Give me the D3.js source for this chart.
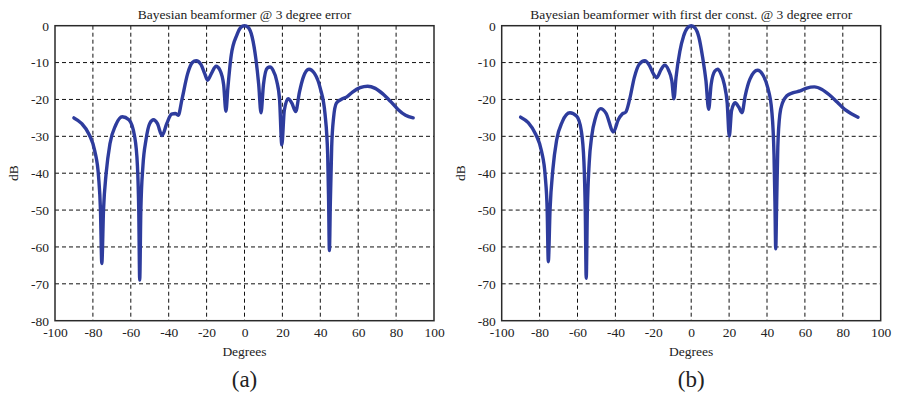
<!DOCTYPE html>
<html>
<head>
<meta charset="utf-8">
<script src="https://cdn.jsdelivr.net/npm/d3@7"></script>
<style>
  body { margin: 0; background: #fff; }
  svg text { font-family: "Liberation Serif", "DejaVu Serif", serif; fill: #222; }
</style>
</head>
<body>
<div id="chart"></div>
<script>
// tick labels shared by both panels
const xTicks = [-100, -80, -60, -40, -20, 0, 20, 40, 60, 80, 100];
const yTicks = [0, -10, -20, -30, -40, -50, -60, -70, -80];

// (a) Bayesian beamformer
const titleA = 'Bayesian beamformer @ 3 degree error';
const degA = [-90, -86, -82, -79, -77, -76, -75.3, -74.4, -73, -71, -68, -64.5, -61, -58, -56.5, -55.8, -55.3,
  -54.7, -53.6, -52, -50, -48, -46, -43.5, -41, -38.5, -36.5, -35, -33, -30, -27.5, -25.5, -23, -21, -19.5,
  -17.5, -15, -13, -11, -9.8, -8.8, -7, -4, -2, 0, 2, 4, 6, 7.5, 8.7, 10, 12, 13.5, 15, 17, 18.5, 19.7, 21,
  23, 25, 27, 29, 31, 34, 37, 40, 42.5, 43.9, 44.4, 44.8, 45.3, 46, 47, 48.5, 51, 54, 57, 61, 65, 69, 73,
  77, 81, 85, 89];
const dbA = [-25, -26.5, -29.5, -34, -41, -50, -64.5, -50, -40, -32, -27, -24.7, -25.5, -30, -38, -50, -69,
  -50, -38, -31, -26.5, -25.5, -26.5, -29.8, -26.5, -24, -23.8, -24.3, -20, -13, -10, -9.5, -10.5, -13, -14.8,
  -13, -11, -12, -16, -23.2, -17, -8, -2.5, -0.5, 0, -0.5, -3, -9, -16, -23.6, -16, -11.5, -11.2, -12, -15,
  -20, -32.3, -23, -19.8, -21, -23.3, -18, -14, -11.8, -13, -17, -24, -35, -48, -61, -48, -33, -25, -21,
  -20, -19.3, -18, -16.8, -16.4, -17, -18.5, -20.5, -22.7, -24.3, -25];

// (b) Bayesian beamformer with first derivative constraint
const titleB = 'Bayesian beamformer with first der const. @ 3 degree error';
const degB = [-90, -86, -82, -79, -77, -76, -75.4, -74.5, -73, -71, -68, -64, -60.5, -58, -56.6, -55.9,
  -55.4, -54.8, -53.8, -52.5, -50.5, -47.8, -45, -41, -38.5, -36.5, -34.5, -32.5, -30, -27.5, -24.5, -22,
  -20, -18.2, -16, -14, -12, -10.2, -9.1, -8, -6, -4, -2, 0, 2, 4, 6, 7.8, 9.2, 10.5, 12.5, 14, 15.5, 17.5,
  19, 20.1, 21.3, 23.2, 25, 26.8, 28.5, 31, 35, 38, 40.5, 42.5, 43.7, 44.2, 44.6, 45.1, 45.7, 46.8, 48.2,
  50.5, 53.5, 57.5, 61, 65, 69, 73, 77, 81, 85, 88];
const dbB = [-24.8, -26.3, -29.5, -34, -41, -50, -64, -50, -39, -31, -26, -23.6, -24.5, -28.5, -37, -50,
  -68.5, -50, -37, -30, -25, -22.5, -23.7, -28.8, -25.5, -24, -23.4, -20, -14, -10.5, -9.5, -10.8, -13,
  -14.1, -12, -10.7, -12, -15, -19.8, -14, -7, -2.8, -0.6, 0, -0.6, -3, -8.5, -15, -22.7, -16, -12.3, -11.8,
  -12.8, -16, -21, -30, -23, -20.9, -22, -23.6, -19, -14.5, -12.1, -13.5, -17, -23, -35, -48, -60.5, -48,
  -33, -24, -20.9, -19, -18.2, -17.7, -16.9, -16.6, -17.3, -18.8, -20.7, -22.7, -24, -24.8];

const W = 898, H = 395;
const svg = d3.select('#chart').append('svg').attr('width', W).attr('height', H);

function panel(left, title, label, deg, db) {
  const x = d3.scaleLinear().domain([-100, 100]).range([left, left + 379]);
  const y = d3.scaleLinear().domain([-80, 0]).range([320.7, 25.7]);
  const g = svg.append('g');

  // dashed grid on the inner ticks
  g.selectAll('.vgrid').data(xTicks.slice(1, -1)).enter().append('line')
    .attr('x1', (d) => x(d)).attr('x2', (d) => x(d))
    .attr('y1', y(0)).attr('y2', y(-80))
    .attr('stroke', '#111').attr('stroke-width', 1).attr('stroke-dasharray', '4,3');
  g.selectAll('.hgrid').data(yTicks.slice(1, -1)).enter().append('line')
    .attr('x1', x(-100)).attr('x2', x(100))
    .attr('y1', (d) => y(d)).attr('y2', (d) => y(d))
    .attr('stroke', '#111').attr('stroke-width', 1).attr('stroke-dasharray', '4,3');

  // box
  g.append('rect')
    .attr('x', x(-100)).attr('y', y(0))
    .attr('width', x(100) - x(-100)).attr('height', y(-80) - y(0))
    .attr('fill', 'none').attr('stroke', '#2a2a2a').attr('stroke-width', 1.5);

  const fmt = (d) => String(d); // plain hyphen, like the original
  const xAxis = g.append('g').attr('transform', `translate(0,${y(-80)})`)
    .call(d3.axisBottom(x).tickValues(xTicks).tickFormat(fmt).tickSize(0).tickPadding(7));
  const yAxis = g.append('g').attr('transform', `translate(${x(-100)},0)`)
    .call(d3.axisLeft(y).tickValues(yTicks).tickFormat(fmt).tickSize(0).tickPadding(6));
  [xAxis, yAxis].forEach((a) => {
    a.select('.domain').remove();
    a.selectAll('text').attr('font-size', 13.5).attr('font-family', '"Liberation Serif", serif').attr('fill', '#222');
  });

  const line = d3.line().x((d) => x(d[0])).y((d) => y(d[1])).curve(d3.curveMonotoneX);
  g.append('path')
    .datum(deg.map((d, i) => [d, db[i]]))
    .attr('d', line)
    .attr('fill', 'none').attr('stroke', '#2e3c9d').attr('stroke-width', 3.4)
    .attr('stroke-linejoin', 'round').attr('stroke-linecap', 'round');

  const cx = (x(-100) + x(100)) / 2;
  g.append('text').attr('x', cx).attr('y', 19).attr('text-anchor', 'middle')
    .attr('font-size', 13.5).text(title);
  g.append('text').attr('x', cx).attr('y', 356).attr('text-anchor', 'middle')
    .attr('font-size', 13.5).text('Degrees');
  g.append('text').attr('transform', `translate(${left - 37},${(y(0) + y(-80)) / 2}) rotate(-90)`)
    .attr('text-anchor', 'middle').attr('font-size', 13.5).text('dB');
  g.append('text').attr('x', cx).attr('y', 387).attr('text-anchor', 'middle')
    .attr('font-size', 23).text(label);
}

panel(55, titleA, '(a)', degA, dbA);
panel(501.7, titleB, '(b)', degB, dbB);
</script>
</body>
</html>
